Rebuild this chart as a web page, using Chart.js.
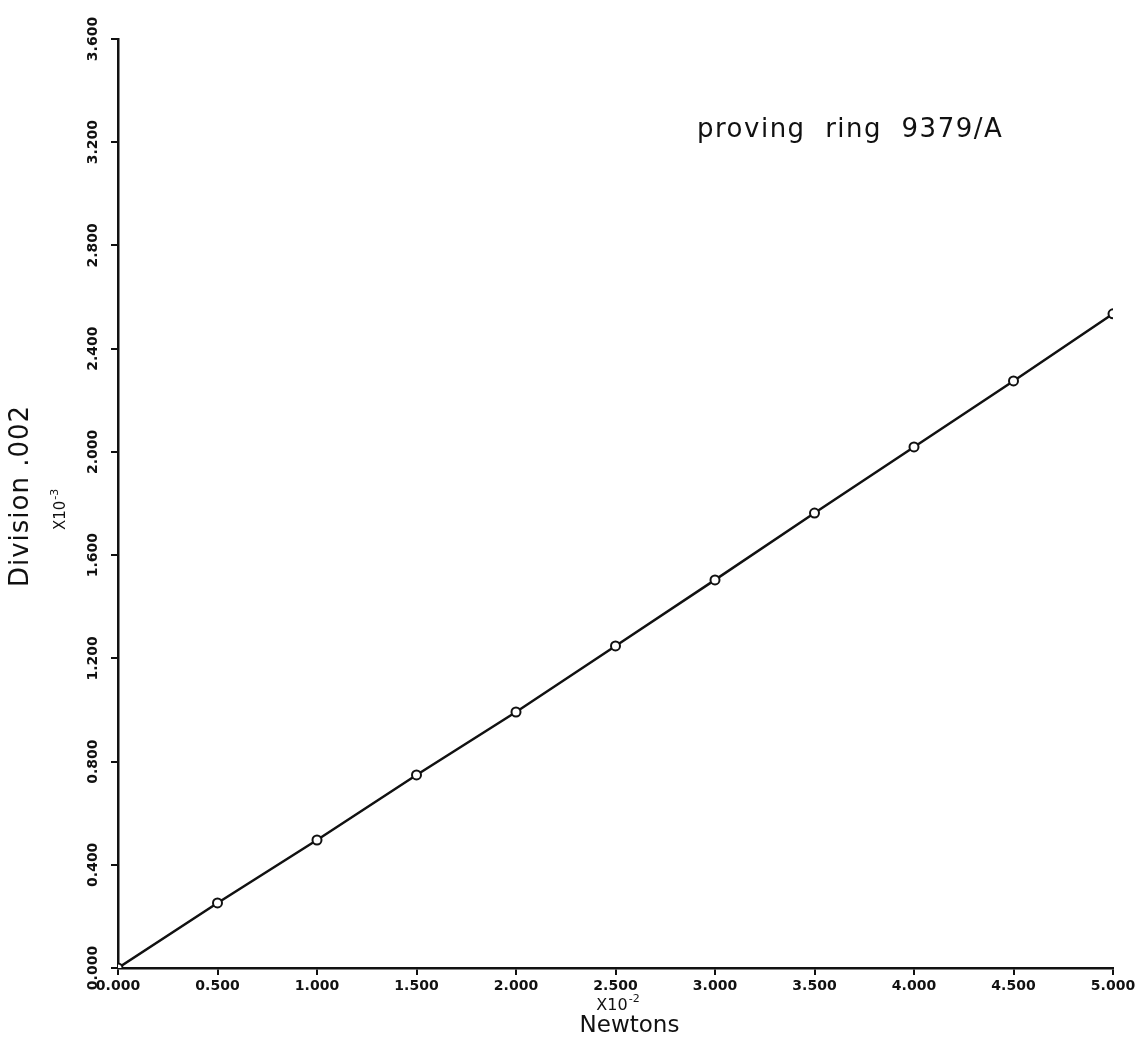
<!DOCTYPE html>
<html>
<head>
<meta charset="utf-8">
<title>proving ring 9379/A</title>
<script src="https://cdn.jsdelivr.net/npm/chart.js@4/dist/chart.umd.min.js"></script>
<style>
  html, body { margin: 0; padding: 0; background: #fff; }
  #wrap { width: 1147px; height: 1048px; }
</style>
</head>
<body>
<div id="wrap"><canvas id="c" width="1147" height="1048"></canvas></div>
<script>
// Load in newtons (x10^-2) and dial reading in divisions (x10^-3)
const newtons   = [0, 0.5, 1.0, 1.5, 2.0, 2.5, 3.0, 3.5, 4.0, 4.5, 5.0];
const divisions = [0, 0.252, 0.496, 0.748, 0.992, 1.248, 1.504, 1.763, 2.019, 2.275, 2.535];

const xTickStep = 0.5;
const yTickStep = 0.4;
const xMax = 5.0;
const yMax = 3.6;

const chartTitle = 'proving  ring  9379/A';
const yTitle = 'Division .002';
const yMultiplier = ['X10', '-3'];
const xMultiplier = ['X10', '-2'];
const xTitle = 'Newtons';

const ink = '#111';
const tickFont = { family: 'DejaVu Sans', size: 14, weight: 'bold' };

const points = newtons.map((x, i) => ({ x, y: divisions[i] }));

// Free text: title, axis names and exponent notes
const annotations = {
  id: 'annotations',
  afterDraw(chart) {
    const ctx = chart.ctx;
    const area = chart.chartArea;
    ctx.save();
    ctx.fillStyle = ink;

    // chart title, upper right
    ctx.font = '26px "DejaVu Sans"';
    ctx.letterSpacing = '1.5px';
    ctx.textAlign = 'left';
    ctx.textBaseline = 'alphabetic';
    ctx.fillText(chartTitle, 697, 137);
    ctx.letterSpacing = '0px';

    // x multiplier with superscript
    const xs = chart.scales.x;
    const xc = xs.getPixelForValue(2.5);
    ctx.font = '16px "DejaVu Sans"';
    const baseW = ctx.measureText(xMultiplier[0]).width;
    ctx.font = '11px "DejaVu Sans"';
    const supW = ctx.measureText(xMultiplier[1]).width;
    const x0 = xc - (baseW + supW) / 2 + 2;
    ctx.font = '16px "DejaVu Sans"';
    ctx.fillText(xMultiplier[0], x0, 1010);
    ctx.font = '11px "DejaVu Sans"';
    ctx.fillText(xMultiplier[1], x0 + baseW + 1, 1002);

    // x axis name
    ctx.font = '23px "DejaVu Sans"';
    ctx.textAlign = 'center';
    ctx.fillText(xTitle, xc + 14, 1032);

    // y axis name, rotated
    ctx.save();
    ctx.translate(21, 496);
    ctx.rotate(-Math.PI / 2);
    ctx.font = '26px "DejaVu Sans"';
    ctx.letterSpacing = '1px';
    ctx.textAlign = 'center';
    ctx.textBaseline = 'middle';
    ctx.fillText(yTitle, 0, 0);
    ctx.restore();

    // y multiplier, rotated
    ctx.translate(65, 530);
    ctx.rotate(-Math.PI / 2);
    ctx.textAlign = 'left';
    ctx.textBaseline = 'alphabetic';
    ctx.font = '15px "DejaVu Sans"';
    const yBaseW = ctx.measureText(yMultiplier[0]).width;
    ctx.fillText(yMultiplier[0], 0, 0);
    ctx.font = '11px "DejaVu Sans"';
    ctx.fillText(yMultiplier[1], yBaseW + 1, -7);
    ctx.restore();
  }
};

new Chart(document.getElementById('c'), {
  type: 'scatter',
  data: {
    datasets: [{
      label: 'proving ring 9379/A',
      data: points,
      showLine: true,
      tension: 0,
      borderColor: ink,
      borderWidth: 2.5,
      pointRadius: 4.5,
      pointHoverRadius: 4.5,
      pointBorderWidth: 2,
      pointBackgroundColor: '#fff',
      pointBorderColor: ink
    }]
  },
  options: {
    responsive: false,
    animation: false,
    devicePixelRatio: 1,
    layout: { padding: { top: 39, right: 34, left: 0, bottom: 0 } },
    plugins: {
      legend: { display: false },
      tooltip: { enabled: false },
      title: { display: false }
    },
    scales: {
      x: {
        type: 'linear',
        min: 0,
        max: xMax,
        afterFit(scale) { scale.height = 80; },
        ticks: {
          stepSize: xTickStep,
          color: ink,
          font: tickFont,
          padding: 3,
          maxRotation: 0,
          callback: v => Number(v).toFixed(3)
        },
        grid: { drawOnChartArea: false, drawTicks: true, tickLength: 7, color: ink, lineWidth: 2 },
        border: { display: true, color: ink, width: 2.5 }
      },
      y: {
        type: 'linear',
        min: 0,
        max: yMax,
        afterFit(scale) { scale.width = 118; },
        ticks: {
          stepSize: yTickStep,
          color: ink,
          font: tickFont,
          minRotation: 90,
          maxRotation: 90,
          crossAlign: 'center',
          padding: -5,
          callback: v => Number(v).toFixed(3)
        },
        grid: { drawOnChartArea: false, drawTicks: true, tickLength: 7, color: ink, lineWidth: 2 },
        border: { display: true, color: ink, width: 2.5 }
      }
    }
  },
  plugins: [annotations]
});
</script>
</body>
</html>
